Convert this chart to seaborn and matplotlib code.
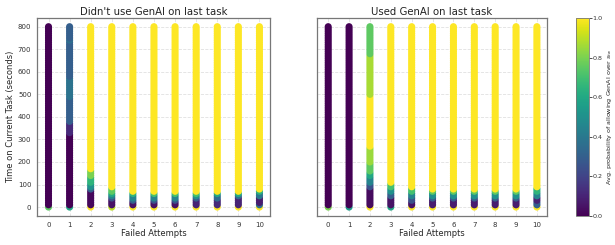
import numpy as np
import pandas as pd
import matplotlib
matplotlib.use('Agg')
import matplotlib.pyplot as plt
import seaborn as sns

# failed attempts (x) and time grid (seconds) of the evaluated states
attempts = list(range(11))
time_step = 10
time_max = 800

# per failed-attempt column: (start time, end time, avg. probability)
no_genai_segments = [
    [(0, 0, 0.75), (10, 800, 0.0)],
    [(0, 0, 0.6), (10, 320, 0.0), (330, 370, 0.12), (380, 480, 0.3), (490, 570, 0.38),
     (580, 730, 0.3), (740, 740, 0.36), (750, 800, 0.3)],
    [(0, 0, 1.0), (10, 70, 0.02), (80, 80, 0.3), (90, 100, 0.5), (110, 130, 0.65),
     (140, 160, 0.8), (170, 800, 1.0)],
    [(0, 0, 0.9), (10, 30, 0.05), (40, 40, 0.25), (50, 50, 0.45), (60, 60, 0.6),
     (70, 80, 0.75), (90, 800, 1.0)],
    [(0, 0, 1.0), (10, 20, 0.05), (30, 30, 0.3), (40, 50, 0.45), (60, 60, 0.65), (70, 800, 1.0)],
    [(0, 0, 1.0), (10, 20, 0.05), (30, 30, 0.25), (40, 50, 0.45), (60, 60, 0.7), (70, 800, 1.0)],
    [(0, 0, 1.0), (10, 20, 0.05), (30, 30, 0.25), (40, 50, 0.45), (60, 60, 0.7), (70, 800, 1.0)],
    [(0, 0, 1.0), (10, 30, 0.1), (40, 40, 0.3), (50, 50, 0.5), (60, 60, 0.7), (70, 800, 1.0)],
    [(0, 0, 1.0), (10, 30, 0.12), (40, 50, 0.35), (60, 60, 0.6), (70, 800, 1.0)],
    [(0, 0, 1.0), (10, 40, 0.1), (50, 50, 0.35), (60, 60, 0.6), (70, 800, 1.0)],
    [(0, 0, 1.0), (10, 10, 0.35), (20, 40, 0.08), (50, 60, 0.4), (70, 70, 0.65), (80, 800, 1.0)],
]

used_genai_segments = [
    [(0, 0, 0.8), (10, 800, 0.0)],
    [(0, 0, 0.55), (10, 800, 0.0)],
    [(0, 0, 1.0), (10, 80, 0.03), (90, 100, 0.25), (110, 130, 0.45), (140, 150, 0.6),
     (160, 190, 0.75), (200, 260, 0.85), (270, 490, 1.0), (500, 670, 0.87), (680, 800, 0.75)],
    [(0, 0, 0.6), (10, 40, 0.05), (50, 60, 0.3), (70, 80, 0.5), (90, 100, 0.7), (110, 800, 1.0)],
    [(0, 0, 1.0), (10, 20, 0.05), (30, 40, 0.25), (50, 60, 0.45), (70, 80, 0.7), (90, 800, 1.0)],
    [(0, 0, 1.0), (10, 30, 0.08), (40, 40, 0.3), (50, 60, 0.5), (70, 70, 0.75), (80, 800, 1.0)],
    [(0, 0, 1.0), (10, 30, 0.08), (40, 40, 0.3), (50, 60, 0.5), (70, 70, 0.75), (80, 800, 1.0)],
    [(0, 0, 1.0), (10, 30, 0.08), (40, 40, 0.3), (50, 60, 0.5), (70, 70, 0.75), (80, 800, 1.0)],
    [(0, 0, 1.0), (10, 30, 0.08), (40, 40, 0.3), (50, 60, 0.5), (70, 70, 0.75), (80, 800, 1.0)],
    [(0, 0, 1.0), (10, 30, 0.08), (40, 40, 0.3), (50, 60, 0.5), (70, 70, 0.75), (80, 800, 1.0)],
    [(0, 0, 1.0), (10, 20, 0.3), (30, 40, 0.1), (50, 60, 0.45), (70, 80, 0.65), (90, 800, 1.0)],
]

titles = ["Didn't use GenAI on last task", "Used GenAI on last task"]


def build_frame(segments):
    rows = []
    for a, segs in zip(attempts, segments):
        for start, end, p in segs:
            for t in range(start, end + 1, time_step):
                rows.append({'attempts': a, 'time': t, 'prob': p})
    return pd.DataFrame(rows)


sns.set_style('white')
plt.rcParams['font.family'] = ['DejaVu Sans']
plt.rcParams['text.color'] = '#222222'
plt.rcParams['xtick.color'] = '#333333'
plt.rcParams['ytick.color'] = '#333333'

fig = plt.figure(figsize=(6.15, 2.45), dpi=100)
ax1 = fig.add_axes([0.060, 0.118, 0.379, 0.808])
ax2 = fig.add_axes([0.515, 0.118, 0.375, 0.808], sharey=ax1)
cax = fig.add_axes([0.937, 0.118, 0.020, 0.808])

for ax, segs, title in zip([ax1, ax2], [no_genai_segments, used_genai_segments], titles):
    df = build_frame(segs)
    sns.scatterplot(data=df, x='attempts', y='time', hue='prob', palette='viridis',
                    hue_norm=(0, 1), s=26, edgecolor='none', legend=False, ax=ax, zorder=3)
    ax.set_xlim(-0.55, 10.5)
    ax.set_ylim(-40, 838)
    ax.set_xticks(attempts)
    ax.set_yticks(range(0, time_max + 1, 100))
    ax.grid(True, linestyle='--', color='#cccccc', alpha=0.6, linewidth=0.6, zorder=0)
    ax.set_title(title, fontsize=7.3, pad=2.5)
    ax.set_xlabel('Failed Attempts', fontsize=6, labelpad=1)
    ax.tick_params(axis='both', labelsize=5, length=2, width=0.6, pad=2)
    for sp in ax.spines.values():
        sp.set_color('#777777')
        sp.set_linewidth(0.9)

ax1.set_ylabel('Time on Current Task (seconds)', fontsize=6, labelpad=2)
ax2.set_ylabel('')
ax2.tick_params(axis='y', labelleft=False)

sm = plt.cm.ScalarMappable(cmap='viridis', norm=plt.Normalize(0, 1))
cb = fig.colorbar(sm, cax=cax)
cb.set_ticks([0, 0.2, 0.4, 0.6, 0.8, 1.0])
cb.ax.tick_params(labelsize=4.6, length=2, width=0.6, pad=1)
cb.outline.set_edgecolor('#777777')
cb.outline.set_linewidth(0.6)
cb.set_label(r'Avg. probability of allowing GenAI over $s_{ta}$', fontsize=4.6, labelpad=1.5)

fig.savefig('out.png', dpi=100)
